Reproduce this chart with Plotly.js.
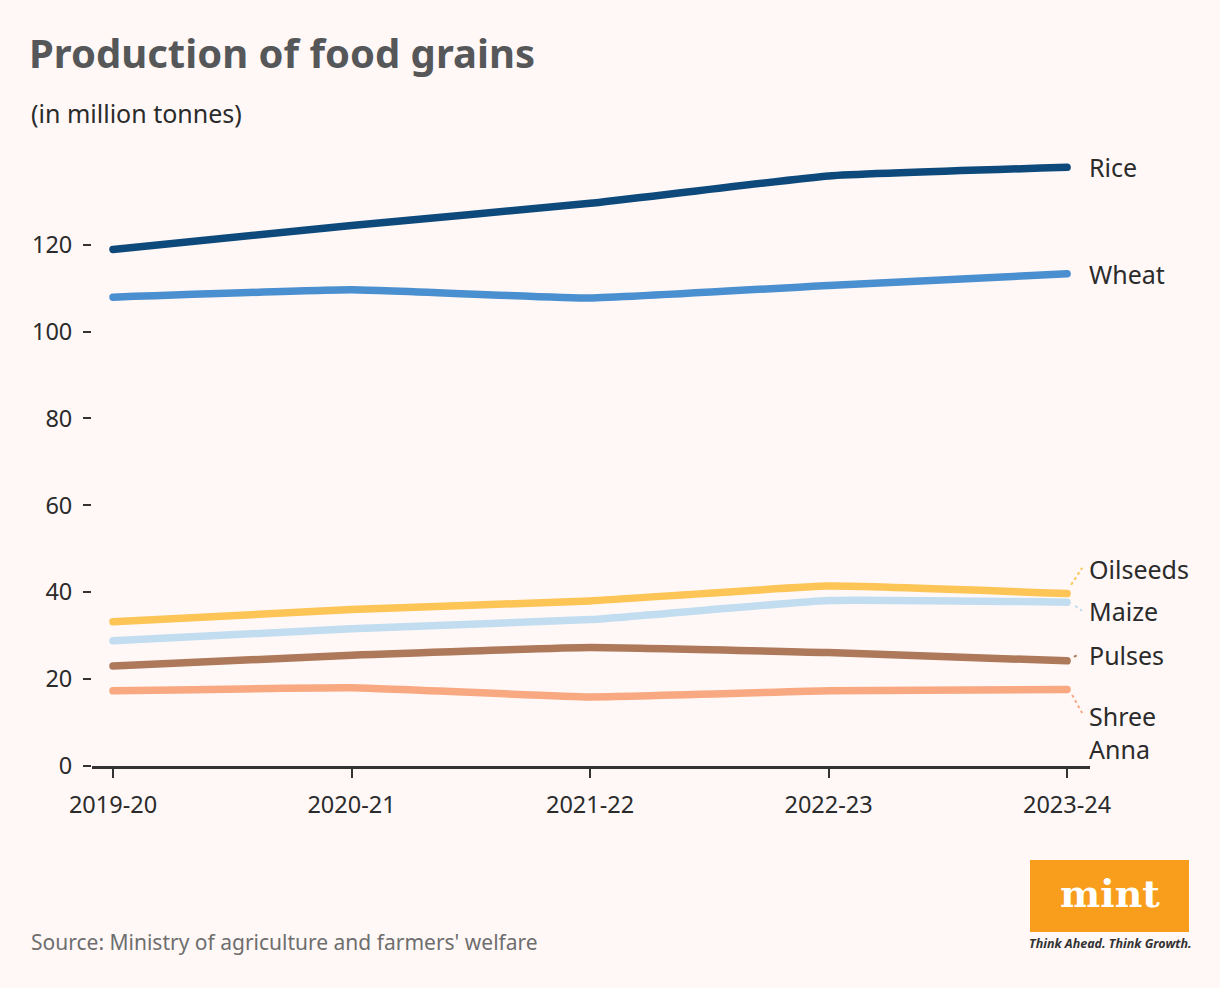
<!DOCTYPE html>
<html>
<head>
<meta charset="utf-8">
<script src="https://cdn.plot.ly/plotly-3.0.1.min.js"></script>
<style>
html,body{margin:0;padding:0;background:#fff8f7;}
#chart{width:1220px;height:988px;}
path.js-line{stroke-linecap:round;stroke-linejoin:round;}
</style>
</head>
<body>
<div id="chart"></div>
<script>
const years = ["2019-20", "2020-21", "2021-22", "2022-23", "2023-24"];
const rice = [118.9, 124.4, 129.5, 135.8, 137.8];
const wheat = [107.9, 109.6, 107.7, 110.6, 113.3];
const oilseeds = [33.2, 36.0, 38.0, 41.4, 39.7];
const maize = [28.8, 31.6, 33.7, 38.1, 37.7];
const pulses = [23.0, 25.5, 27.3, 26.1, 24.2];
const shreeAnna = [17.3, 18.0, 15.9, 17.3, 17.6];

const seriesNames = ["Rice", "Wheat", "Oilseeds", "Maize", "Pulses", "Shree<br>Anna"];
const seriesValues = [rice, wheat, oilseeds, maize, pulses, shreeAnna];
const seriesColors = ["#0d4a7b", "#4a8fcf", "#fdc456", "#c2ddef", "#ae785b", "#f8a982"];
// label vertical positions (data units) for end labels
const labelY = [rice[4], wheat[4], 45.4, 35.7, 25.6, 7.8];

const xIdx = years.map((_, i) => i);

// plot area geometry in pixels
const W = 1220, H = 988;
const M = {l: 92, r: 130, t: 136, b: 222};
const PW = W - M.l - M.r, PH = H - M.t - M.b;
const px = x => (x - M.l) / PW;
const py = y => (H - M.b - y) / PH;

const FONT = "Noto Sans, Open Sans, sans-serif";

const traces = seriesValues.map((vals, i) => ({
  x: xIdx,
  y: vals,
  type: "scatter",
  mode: "lines",
  name: seriesNames[i],
  line: {color: seriesColors[i], width: 7.5, shape: "spline", smoothing: 0.35},
  hoverinfo: "skip",
  cliponaxis: false
}));
traces.reverse();

const labelFont = {family: FONT, size: 25, color: "#2b2b2b"};

const annotations = seriesNames.map((n, i) => ({
  xref: "x", yref: "y",
  x: 4, y: labelY[i], xshift: 20,
  xanchor: "left", yanchor: "middle",
  text: n, showarrow: false, align: "left",
  font: labelFont
}));

annotations.push({
  xref: "paper", yref: "paper", x: px(29), y: py(113),
  xanchor: "left", yanchor: "middle", showarrow: false,
  text: "(in million tonnes)",
  font: {family: FONT, size: 25, color: "#2b2b2b"}
});
annotations.push({
  xref: "paper", yref: "paper", x: px(29), y: py(942),
  xanchor: "left", yanchor: "middle", showarrow: false,
  text: "Source: Ministry of agriculture and farmers' welfare",
  font: {family: FONT, size: 21, color: "#6e6e6e"}
});
annotations.push({
  xref: "paper", yref: "paper", x: px(1110), y: py(893),
  xanchor: "center", yanchor: "middle", showarrow: false,
  text: "<b>mint</b>",
  font: {family: "DejaVu Serif, serif", size: 38, color: "#ffffff"}
});
annotations.push({
  xref: "paper", yref: "paper", x: px(1110), y: py(944),
  xanchor: "center", yanchor: "middle", showarrow: false,
  text: "<b><i>Think Ahead. Think Growth.</i></b>",
  font: {family: FONT, size: 12.5, color: "#333333"}
});

function dash(x0, y0, x1, y1, color) {
  return {type: "line", xref: "x", yref: "y", x0, y0, x1, y1,
    line: {color, width: 2, dash: "dot"}};
}

const shapes = [
  dash(4.017, 41.7, 4.063, 45.6, seriesColors[2]),
  dash(4.034, 36.85, 4.063, 35.7, seriesColors[3]),
  dash(4.029, 25.1, 4.05, 25.8, seriesColors[4]),
  dash(4.021, 16.35, 4.063, 12.2, seriesColors[5]),
  {type: "rect", xref: "paper", yref: "paper",
   x0: px(1030), x1: px(1189), y0: py(932), y1: py(860),
   fillcolor: "#f99d1c", line: {width: 0}, layer: "below"}
];

const layout = {
  width: W, height: H,
  margin: M,
  paper_bgcolor: "#fff8f7",
  plot_bgcolor: "#fff8f7",
  showlegend: false,
  title: {
    text: "<b>Production of food grains</b>",
    xref: "container", yref: "container",
    x: 29 / W, xanchor: "left",
    y: 1 - 54 / H, yanchor: "middle",
    font: {family: FONT, size: 40, color: "#555759"}
  },
  xaxis: {
    range: [-0.088, 4.096],
    tickvals: xIdx, ticktext: years,
    showgrid: false, zeroline: false,
    showline: true, linecolor: "#333333", linewidth: 3,
    ticks: "outside", ticklen: 9, tickwidth: 2, tickcolor: "#333333",
    ticklabelstandoff: 7,
    tickfont: {family: FONT, size: 23.5, color: "#2b2b2b"},
    fixedrange: true
  },
  yaxis: {
    range: [0, 145],
    tickvals: [0, 20, 40, 60, 80, 100, 120],
    showgrid: false, zeroline: false, showline: false,
    ticks: "outside", ticklen: 8, tickwidth: 2, tickcolor: "#333333",
    ticklabelstandoff: 6,
    tickfont: {family: FONT, size: 23.5, color: "#2b2b2b"},
    fixedrange: true
  },
  annotations, shapes
};

Plotly.newPlot("chart", traces, layout, {displayModeBar: false, staticPlot: true});
</script>
</body>
</html>
